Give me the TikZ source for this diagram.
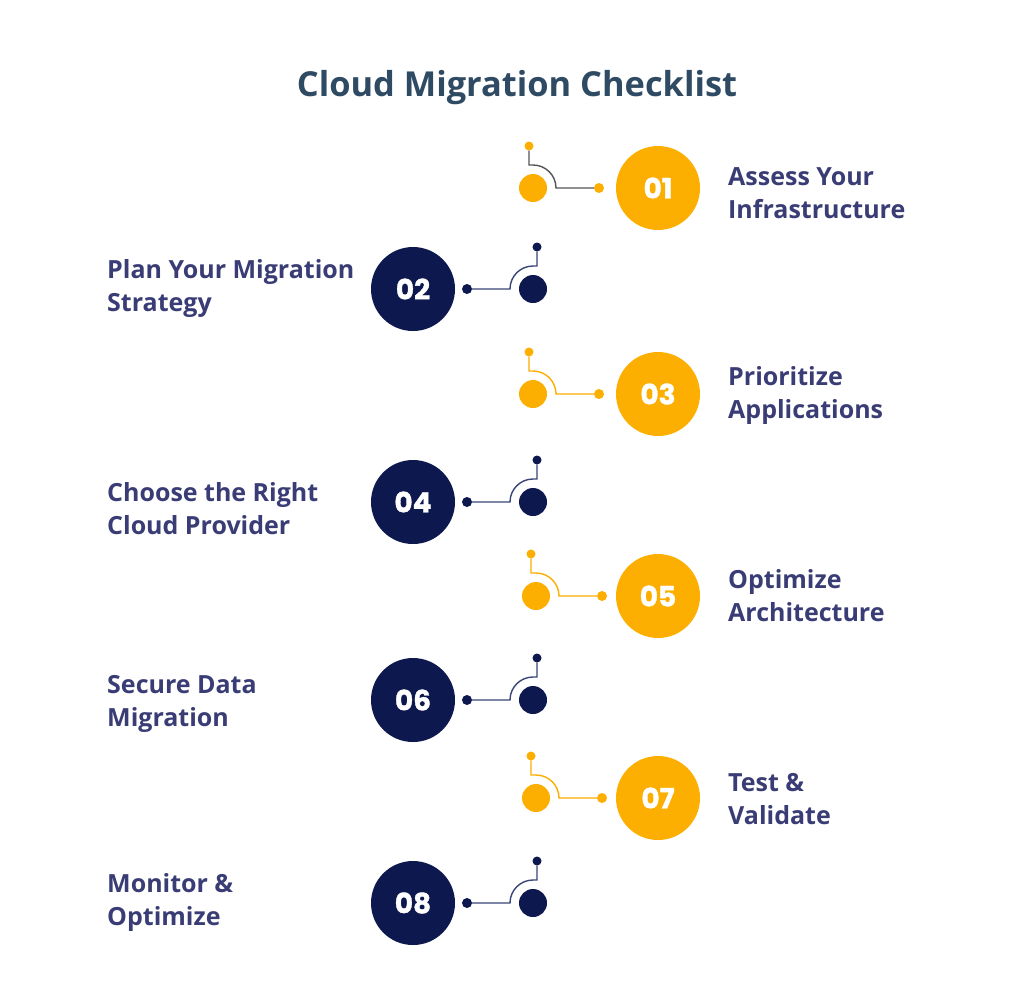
\documentclass[tikz,border=0pt]{standalone}
\usepackage{fontspec}
\setmainfont{Open Sans}
\newfontfamily\numfont{Poppins}[BoldFeatures={FakeBold=1.2}]
\definecolor{orng}{RGB}{252,175,0}
\definecolor{navy}{RGB}{12,24,78}
\definecolor{navyline}{RGB}{58,70,120}
\definecolor{grayline}{RGB}{85,85,85}
\definecolor{lbl}{RGB}{58,61,117}
\definecolor{ttl}{RGB}{47,74,99}
\begin{document}
\begin{tikzpicture}[x=1pt,y=-1pt,
  bigc/.style={circle,minimum size=84pt,inner sep=0pt,text=white,font=\numfont\bfseries\fontsize{28}{30}\selectfont},
  midc/.style={circle,minimum size=28pt,inner sep=0pt},
  dotc/.style={circle,minimum size=10pt,inner sep=0pt},
  tdot/.style={circle,minimum size=9pt,inner sep=0pt},
  conn/.style={line width=1.4pt},
  lab/.style={anchor=west,align=left,text=lbl,font=\bfseries\fontsize{25}{33}\selectfont,inner sep=0pt}]
\useasboundingbox (0,0) rectangle (1024,1007);
\fill[white] (0,0) rectangle (1024,1007);
\node[text=ttl,font=\bfseries\fontsize{34.4}{40}\selectfont] (title) at (517,88) {Cloud Migration Checklist};

% right rows (orange)
\foreach \n/\cy/\sx/\tx/\lc in {1/188/533/529/grayline,3/394/533/529/orng,5/596/536/531/orng,7/798/536/531/orng}{
  \node[bigc,fill=orng] (c\n) at (658,\cy) {0\n};
  \node[midc,fill=orng] (s\n) at (\sx,\cy) {};
  \node[dotc,fill=orng] (d\n) at (\sx+66,\cy) {};
  \node[tdot,fill=orng] (t\n) at (\tx,\cy-42) {};
  \draw[conn,draw=\lc] (d\n.west) -- ([xshift=23pt]s\n.center) arc[start angle=0,end angle=90,radius=23pt] -| (t\n.south);
}
% left rows (navy)
\foreach \n/\cy in {2/289,4/502,6/700,8/903}{
  \node[bigc,fill=navy] (c\n) at (413,\cy) {0\n};
  \node[midc,fill=navy] (s\n) at (533,\cy) {};
  \node[dotc,fill=navy] (d\n) at (467,\cy) {};
  \node[tdot,fill=navy] (t\n) at (537,\cy-42) {};
  \draw[conn,draw=navyline] (d\n.east) -- ([xshift=-23pt]s\n.center) arc[start angle=180,end angle=90,radius=23pt] -| (t\n.south);
}

\node[lab] (l1) at (728,193) {Assess Your\\Infrastructure};
\node[lab] (l2) at (107,288) {Plan Your Migration\\Strategy};
\node[lab] (l3) at (728,395) {Prioritize\\Applications};
\node[lab] (l4) at (107,509) {Choose the Right\\Cloud Provider};
\node[lab] (l5) at (728,596) {Optimize\\Architecture};
\node[lab] (l6) at (107,704) {Secure Data\\Migration};
\node[lab] (l7) at (728,799) {Test \&\\Validate};
\node[lab] (l8) at (107,902) {Monitor \&\\Optimize};
\end{tikzpicture}
\end{document}
